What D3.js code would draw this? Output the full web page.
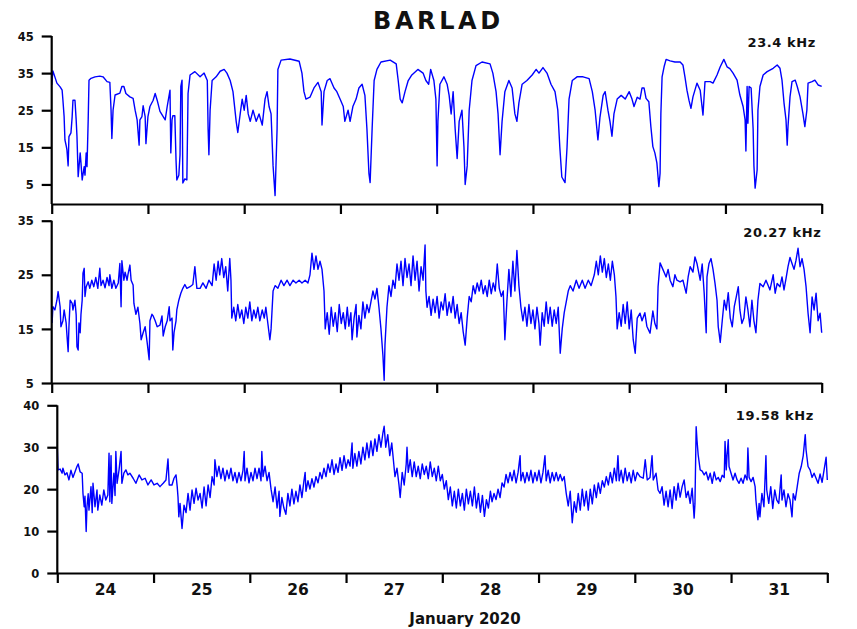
<!DOCTYPE html>
<html><head><meta charset="utf-8">
<script src="https://cdn.jsdelivr.net/npm/d3@7"></script>
<style>
html,body{margin:0;padding:0;background:#fff;}
svg text{font-family:"DejaVu Sans",Verdana,sans-serif;font-weight:bold;fill:#111;}
</style>
</head><body>
<svg id="chart" width="857" height="629"></svg>
<script>
// ---- DATA (time in hours from 24 Jan 2020 00:00, value) ----
const title = "BARLAD";
const xTitle = "January 2020";
const dayLabels = ["24","25","26","27","28","29","30","31"];
const freqLabels = ["23.4 kHz","20.27 kHz","19.58 kHz"];
const yTicks1 = [5,15,25,35,45];
const yTicks2 = [5,15,25,35];
const yTicks3 = [0,10,20,30,40];

const s234 = [[0,31.8],[0.3,35.6],[1.3,32.3],[2.1,31.3],[2.6,30.4],[2.8,27.7],[3.1,23.2],[3.3,17],[3.6,15.5],[3.8,14.3],[4.1,10],[4.3,17.9],[4.8,18.9],[5.1,23.2],[5.3,27.7],[5.8,27.7],[6.1,22.4],[6.3,18],[6.6,7.1],[7.1,13.5],[7.3,10.8],[7.6,6.2],[8.1,9.8],[8.3,7.5],[8.6,13.5],[8.8,9.8],[9.1,22.4],[9.3,33.1],[9.8,33.6],[10.8,34],[12,34.2],[12.8,34],[13.8,32.7],[14.5,32.5],[14.8,25],[15,17.4],[15.3,25],[15.8,29.1],[17,29.6],[17.5,31.4],[18,31.4],[18.5,29.5],[19.5,28.6],[20.3,28.2],[20.8,25],[21.3,22.4],[21.8,15.6],[22,22.4],[22.5,23.3],[22.8,26.2],[23.3,23.3],[23.5,16],[24,23.3],[24.5,26],[25.3,27.7],[25.8,29.5],[26.3,27.7],[27,24.7],[27.8,23.3],[28.3,22.4],[28.8,26],[29.5,30.4],[29.7,13.5],[30,22.4],[30.2,23.5],[30.7,23.5],[31,11.6],[31.2,6.2],[31.7,7.5],[32,13],[32.2,31.4],[32.5,33.1],[32.7,5.4],[33.2,6.5],[33.7,6.2],[34,29.5],[34.5,34.5],[35.7,35.4],[37,34],[38,35],[38.8,33],[39,20],[39.2,13],[39.5,25],[40,33],[41,34],[42,35.5],[43,36],[43.7,35],[44.5,33],[45.2,30],[46,22],[46.4,19],[47,24],[47.5,28],[48,25],[48.5,29],[49,24],[49.5,22],[50.2,25],[51,22],[51.7,24],[52.5,21],[53.2,28],[53.7,30],[54.2,26],[54.7,24],[55.2,10],[55.7,2],[56.2,20],[56.4,36],[57.2,38.5],[59.4,38.8],[61.7,38.2],[62.4,35],[62.9,30],[63.4,28],[64.4,28.5],[65.4,31],[66.4,32.5],[67.2,30],[67.4,21],[67.9,30],[68.7,33],[69.4,33.5],[70.4,31],[71.1,30],[71.9,28],[72.7,26],[73.1,22],[73.9,25],[74.4,22],[75.1,26],[75.9,28],[76.6,31],[77.4,32],[78.1,29],[78.6,20],[79.1,8],[79.4,5.5],[79.9,20],[80.4,33],[81.1,36],[82.1,38],[84.4,38.5],[85.9,37.5],[86.4,33],[86.9,28],[87.4,27],[88.1,30],[88.9,33],[89.8,34.5],[91.3,36],[92.6,35],[93.3,33],[94,32],[94.5,36],[95.3,33],[95.8,28],[96.1,10],[96.3,22],[96.8,32],[97.8,34],[98.6,32],[99.1,29],[99.6,24],[100.1,30],[100.6,20],[101.1,12],[101.6,22],[102.3,25],[102.8,15],[103.1,5],[103.6,10],[104.1,25],[104.8,33],[105.8,37],[107.3,38],[109.3,37.5],[110,35],[110.8,30],[111.3,24],[111.8,13],[112.3,22],[113,30],[114,33],[114.8,31],[115.5,24],[116,22],[116.5,27],[117.3,32],[118.5,33],[119.8,34.5],[120.8,36],[121.5,35],[122.5,36.5],[123.5,35],[124.5,32],[125.5,30],[126.2,25],[126.7,15],[127.2,7],[128,5.5],[128.5,15],[129,28],[129.8,33],[131,34],[132.5,34],[134,33.5],[134.8,30],[135.5,25],[136.2,17],[136.7,23],[137.5,29],[138,30],[138.7,25],[139.2,22],[139.7,18],[140.2,24],[141,28],[142,29],[143,28],[144,30],[144.7,28],[145.2,26],[146,28.5],[146.7,28],[147.2,31],[147.7,31],[148.2,28.2],[148.9,27.3],[149.4,20.6],[149.9,15.2],[150.4,13.5],[150.9,10.8],[151.4,4.4],[151.7,8],[151.9,24.2],[152.2,34],[152.7,36.7],[153.2,38.7],[154.2,38.3],[155.4,38],[156.7,38],[157.4,37.2],[157.9,34],[158.4,30.4],[158.9,27.7],[159.4,25.5],[159.9,28.6],[160.9,32.3],[161.7,30.4],[162.4,23.7],[162.9,32.7],[164.2,32.7],[164.9,32.3],[165.9,34.5],[166.7,36.7],[167.6,38.7],[168.4,36.7],[169.1,36.2],[169.9,35],[170.9,33.1],[171.6,29.1],[172.4,26],[172.9,22.4],[173.1,14],[173.4,31.4],[173.6,21.5],[173.9,31.4],[174.4,31],[174.9,20],[175.1,10],[175.4,4],[175.9,8.9],[176.1,25],[176.6,31.4],[177.4,34.5],[178.4,35.4],[179.9,36.3],[180.9,37.2],[181.6,36.3],[182.1,33.1],[182.6,27],[183.1,22.4],[183.4,15.6],[183.6,20.6],[184.1,28.6],[184.6,32.7],[185.4,33.1],[185.9,31.4],[186.6,28.6],[187.3,24.2],[187.8,20.6],[188.3,25],[188.6,32.3],[189.6,32.7],[190.3,33.1],[191.1,31.8],[192,31.4]];

const s2027 = [[0.1,16.1],[0.3,19.1],[0.8,18.5],[1.3,20.3],[1.6,21.9],[2.1,19.1],[2.3,15.4],[2.8,16.5],[3.1,18.5],[3.6,16.1],[3.8,13.9],[4.1,10.8],[4.3,15.4],[4.6,20.3],[5.1,19.7],[5.3,18.5],[5.8,20.3],[6.1,17.6],[6.3,11.7],[6.6,11.1],[6.8,16.1],[7.1,14.3],[7.3,17.7],[7.6,20.3],[7.8,25.3],[8.1,26.2],[8.3,21],[8.6,22.8],[9.1,23.7],[9.5,22.5],[10,24],[10.5,22.8],[11,24.5],[11.5,22.5],[12,26.2],[12.3,23],[12.8,24],[13.3,22.6],[13.8,24.5],[14.3,23],[14.5,25],[15,22.5],[15.5,24],[16,22.5],[16.6,23.5],[17,27.1],[17.3,19.1],[17.5,27.6],[18,24],[18.3,25.5],[18.8,24],[19,25],[19.5,26.8],[19.8,24],[20.3,23.1],[20.5,19.7],[21,17.7],[21.5,19],[22,16],[22.3,13],[22.8,14.3],[23.3,15.4],[23.8,12.5],[24.3,9.3],[24.5,16.5],[25,17.7],[25.3,17.4],[25.8,16.5],[26.3,15.4],[27,15.7],[27.5,17.4],[27.8,13.7],[28.3,15.4],[28.8,16.5],[29.3,19.1],[29.5,16.5],[30,17],[30.2,11.1],[30.5,14.3],[31,16.5],[31.2,18.5],[31.7,20.3],[32.2,21.6],[32.7,22.5],[33.2,23.2],[33.7,22.5],[34.5,22.8],[35.2,23.2],[35.7,26.5],[36.2,22.5],[37,22.5],[37.7,23.5],[38.5,22.5],[39.2,24],[40,23],[40.5,27],[41,24],[41.5,27.5],[41.9,25],[42.4,28],[42.9,24.5],[43.4,26.5],[43.9,22],[44.4,28],[44.7,24],[44.9,17],[45.4,19],[45.9,16.5],[46.4,19.5],[46.9,17],[47.4,18.5],[47.9,16],[48.4,19],[48.9,17],[49.4,20],[49.9,16.5],[50.4,18.5],[50.9,17],[51.4,19],[51.9,16.5],[52.5,18.5],[53,17],[53.4,19],[53.9,16],[54.4,13],[54.7,15],[55.2,22],[55.7,23],[56.4,22.5],[57.2,24],[57.9,23],[58.7,24],[59.4,23],[60.2,24],[60.9,23.5],[61.7,24],[62.4,23.5],[63.2,24],[63.9,23.5],[64.4,25],[64.9,29],[65.4,26],[65.9,28.5],[66.4,26],[66.9,27.5],[67.4,26],[67.9,22],[68.2,15],[68.7,18],[69.2,14],[69.7,19],[70.2,15.5],[70.7,18],[71.2,14.5],[71.7,19.5],[72.2,16],[72.7,18],[73.2,15],[73.7,19],[74.1,15.5],[74.6,18],[74.9,13],[75.4,17],[75.9,19.5],[76.1,13.5],[76.6,17.5],[77.1,15],[77.6,20],[78.1,17],[78.6,19.5],[79.1,18],[79.6,20],[80.1,22],[80.6,20.5],[81.1,22.5],[81.6,19],[82.1,15],[82.6,10],[82.9,5.5],[83.1,12],[83.6,19],[84.1,23],[84.6,21],[85.1,24],[85.6,22.5],[86.1,27],[86.6,24],[87.1,27.5],[87.6,23],[88.1,28],[88.6,24.5],[89.1,27],[89.6,23],[90.1,28.5],[90.6,24],[91.1,27.5],[91.6,22],[92.1,26.5],[92.6,24],[93.1,30.5],[93.3,22],[93.6,19],[94.1,21],[94.6,17.5],[95.1,20.5],[95.6,18],[96.1,21],[96.6,17],[97.1,20],[97.6,18.5],[98.1,21.5],[98.6,17.5],[99.1,20],[99.6,18],[100.1,21],[100.6,17],[101.1,19.5],[101.6,16],[102.1,18],[102.6,14.5],[103.1,12],[103.6,17],[104.1,21],[104.6,20],[105.1,23],[105.6,21.5],[106.1,23.5],[106.6,22],[107.1,24],[107.6,21.5],[108.1,23],[108.6,21],[109.1,24],[109.6,21.5],[110.1,23.5],[110.6,22],[111.1,27],[111.6,22.5],[112.1,21],[112.6,22],[113,13],[113.5,20],[114,26],[114.5,21],[115,27.5],[115.5,22],[116,29.5],[116.5,23],[117,19],[117.5,16.5],[118,19],[118.5,15.5],[119,19.5],[119.5,16],[120,18.5],[120.5,15],[121,19],[121.5,16],[121.8,12],[122.3,18],[122.8,15.5],[123.3,20],[123.8,16],[124.3,19],[124.8,15.5],[125.3,18.5],[125.8,16],[126.3,19],[126.8,10.5],[127.3,15],[127.8,18],[128.3,20],[128.8,22],[129.3,23],[130,22],[130.8,24],[131.5,22.5],[132.3,24],[133,22.5],[133.8,24],[134.5,23],[135.3,25],[135.8,27.5],[136.3,25],[136.8,28.5],[137.3,25.5],[137.8,28],[138.3,24.5],[138.8,27],[139.3,24],[139.8,27.5],[140.3,25],[140.7,21],[141,15],[141.5,18],[142,15.5],[142.5,19.5],[143,16],[143.5,20],[144,15],[144.5,18.5],[145,13],[145.5,10.5],[146,17],[146.7,17.9],[147.2,16.5],[147.9,18],[148.4,15.5],[149.2,14.2],[149.9,18.3],[150.4,16],[150.9,15],[151.2,22.8],[151.7,27.2],[152.4,26],[153.2,24.6],[153.7,26],[154.2,24],[154.9,22.8],[155.4,25],[155.9,24],[156.7,23.7],[157.4,24],[158.2,21.6],[158.7,24.6],[159.2,26.5],[159.9,25.5],[160.4,28.3],[160.9,27.1],[161.7,24],[162.2,27],[162.7,21.6],[163.2,14.3],[163.4,24.6],[163.9,27.1],[164.4,28],[164.9,26],[165.4,23.4],[165.9,20.3],[166.2,15.4],[166.4,14.3],[166.7,12.5],[167.2,16.5],[167.7,20.3],[168.2,18.5],[168.7,21.7],[169.2,17],[169.7,15.4],[170.2,19.1],[170.7,20.9],[171.2,22.8],[171.6,18.5],[172.1,16],[172.6,17],[173.1,20.9],[173.6,18.5],[174.1,15.4],[174.6,20.3],[175.1,16.5],[175.6,14.3],[176.1,20.3],[176.6,23.4],[177.4,22.8],[178.1,24],[178.6,23.1],[179.1,22.2],[179.9,25],[180.4,21.6],[180.9,23.4],[181.6,22.8],[182.1,24.6],[182.6,22.2],[183.1,24.3],[183.6,26.5],[184.1,28.2],[184.6,27.1],[185.1,26],[185.6,27.7],[186.1,29.9],[186.6,26.5],[187.1,28],[187.6,26],[188.1,22.8],[188.6,17.9],[189.1,14.3],[189.6,20.9],[190.1,18.5],[190.6,21.6],[191.1,16.5],[191.6,17.9],[192,14.3]];

const s1958 = [[0,29.8],[0.2,24.6],[0.7,24.8],[1.2,23.8],[1.4,25],[1.9,23.4],[2.4,23.9],[2.9,22.2],[3.4,24.5],[3.9,22.8],[4.4,24.1],[4.9,25.4],[5.2,26],[5.7,24.1],[6.2,23.8],[6.4,19],[6.7,15.8],[6.9,18.3],[7.2,9.9],[7.4,15.8],[7.7,18.9],[7.9,15],[8.4,20.6],[8.7,14.4],[8.9,21.4],[9.4,15.8],[9.9,19.8],[10.1,15],[10.6,18.6],[11.1,16.2],[11.6,19.8],[12.1,17.4],[12.6,18.6],[12.9,28.6],[13.1,17],[13.4,28],[13.6,16.6],[14.1,23.8],[14.4,18.5],[14.6,29],[14.9,21.4],[15.4,24.6],[15.9,29],[16.1,21.4],[16.6,23.8],[17.1,24.6],[17.6,23.4],[18.1,23.8],[18.9,22.6],[19.6,21.4],[20.4,23.4],[21.1,22.2],[21.9,22.6],[22.6,21],[23.4,22.2],[24.1,21],[24.9,21.4],[25.6,20.6],[26.4,21.4],[27.1,22.2],[27.6,27.2],[27.9,21],[28.6,21],[29.1,22.6],[29.6,23.4],[29.9,20.6],[30.1,18.1],[30.3,13.4],[30.6,16.6],[31.1,10.6],[31.6,16.2],[32.1,14.4],[32.6,19],[33.1,15],[33.6,19.8],[34.1,16.6],[34.6,20.2],[35.1,17.4],[35.6,19],[36.1,15.5],[36.6,20.5],[37.1,16],[37.6,21],[38.1,18],[38.6,23],[39.1,21],[39.3,27],[39.8,23],[40.3,25.5],[40.8,22.5],[41.3,25],[41.8,22],[42.3,24.5],[42.8,22.5],[43.3,25],[43.8,22],[44.3,24],[44.8,21.5],[45.3,24],[45.8,22],[46.3,24.5],[46.6,29],[46.8,22],[47.3,25],[47.8,21.5],[48.3,24],[48.8,22],[49.3,25],[49.8,22.5],[50.3,25],[50.8,22],[51,29],[51.3,23],[51.8,25.5],[52.3,22],[52.8,24],[53.3,20],[53.8,17],[54.3,20.5],[54.8,15.5],[55.3,19.5],[55.5,13.5],[56,18],[56.5,15.5],[57,14],[57.5,19],[58,16],[58.5,20],[59,16.5],[59.5,19.5],[60,17],[60.5,21],[61,18],[61.5,22],[61.8,24],[62,19.5],[62.5,22],[63,20],[63.5,22.5],[64,20.5],[64.5,23],[65,21.5],[65.5,24],[66,22.5],[66.5,25],[67,23],[67.5,26],[68,24],[68.5,27],[69,23.5],[69.5,26],[70,24],[70.5,27.5],[71,24.5],[71.5,28],[72,25],[72.5,27],[73,25.5],[73.5,31],[73.7,25],[74.2,28.5],[74.7,25.5],[75.2,29],[75.7,26],[76.2,30],[76.7,27],[77.2,31],[77.7,27.5],[78.2,31.5],[78.7,28],[79.2,32],[79.7,29],[80.2,33],[80.7,30],[81.2,33.5],[81.5,35],[81.9,30],[82.4,33],[82.9,28],[83.4,31],[83.9,26],[84.2,23],[84.7,25],[85.2,21],[85.5,18],[86,24],[86.5,21],[87,26],[87.2,30],[87.5,24],[88,27],[88.5,23],[89,26.5],[89.5,23],[90,25.5],[90.5,22.5],[91,26],[91.5,23.5],[92,25.5],[92.5,22.5],[93,26.5],[93.5,23],[94,25],[94.5,22],[95,25.5],[95.5,22],[96,23.5],[96.5,20],[97,22],[97.5,17.5],[98,20.5],[98.5,16],[99,19.5],[99.5,15.5],[100,20],[100.5,16],[101,19],[101.5,15],[102,20],[102.5,16.5],[103,19.5],[103.5,16],[104,20.5],[104.5,15.5],[105,19],[105.5,14.5],[106,18.5],[106.5,13.5],[107,17.5],[107.5,15.5],[108,19.5],[108.4,17],[108.9,19],[109.4,17.5],[109.9,20],[110.4,18],[110.9,21.5],[111.4,20.5],[111.9,23.5],[112.4,21.5],[112.9,24],[113.4,22],[113.9,24.5],[114.4,21.5],[114.9,24],[115.4,28],[115.6,22],[116.1,24],[116.6,21.5],[117.1,24],[117.6,22],[118.1,24.5],[118.6,21.5],[119.1,24],[119.6,22],[120.1,24.5],[120.6,21.5],[121.1,24],[121.6,28],[121.9,22],[122.4,24.5],[122.9,21.5],[123.4,24],[123.9,22],[124.4,24],[124.9,22],[125.4,23.5],[125.9,22],[126.4,23],[126.9,19],[127.4,16],[127.9,19.5],[128.4,12],[128.9,17],[129.4,14.5],[129.9,19],[130.4,15],[130.9,20],[131.4,16],[131.9,19.5],[132.4,15],[132.9,20],[133.4,16.5],[133.9,21],[134.4,18],[134.9,21.5],[135.4,19],[135.9,22],[136.4,20.5],[136.9,23],[137.4,21],[137.9,24],[138.4,21.5],[138.9,25],[139.4,22],[139.8,28],[140.1,22],[140.6,24.5],[141.1,21.5],[141.6,25],[142.1,22],[142.6,24],[143.1,21.5],[143.6,24.5],[144.1,22],[144.6,24],[145.3,23],[146.1,22.6],[146.6,27],[147.1,22.2],[147.8,22.8],[148.3,28],[148.6,22.2],[149.3,23.8],[149.8,19.8],[150.3,19],[150.8,20.6],[151.3,16.2],[151.8,19.5],[152.3,15.8],[152.8,19.8],[153.3,15.4],[153.8,20.6],[154.3,17.4],[154.8,21.4],[155.3,18.1],[155.8,20.6],[156.3,22.2],[156.8,18],[157.3,19.5],[157.8,16.6],[158.3,20.2],[158.8,13.1],[159,16.6],[159.3,34.9],[159.5,31.8],[159.8,28.2],[160.3,24.6],[160.8,24.3],[161.3,23.4],[161.8,24.1],[162.3,22.2],[162.8,23.8],[163.3,21.4],[163.8,24.1],[164.3,22.2],[164.8,22.8],[165.3,21.8],[165.8,23.3],[166.3,22.8],[166.5,31.4],[166.8,24.6],[167,28],[167.3,31.8],[167.5,25.4],[168,23.8],[168.5,22.2],[169,23.8],[169.5,22.2],[170,21.4],[170.5,22.6],[171,21.4],[171.5,23.4],[172,22.2],[172.2,29.8],[172.5,22.8],[173,21.8],[173.5,22.8],[174,20.6],[174.2,17.4],[174.7,12.7],[175,16.6],[175.2,13.4],[175.7,19],[176.2,15.8],[176.7,28],[176.9,19.8],[177.4,16.6],[177.9,20.6],[178.4,15.4],[178.9,19.8],[179.4,17.4],[179.9,16.6],[180.5,23.4],[180.7,17.4],[181.2,19.8],[181.7,15.8],[182.2,18.9],[182.7,17.4],[183.2,13.4],[183.5,18.9],[184,17.4],[184.5,20.6],[185,23.8],[185.5,25.4],[186,28],[186.5,33],[186.7,29.4],[187.2,25.4],[187.7,24.6],[188.2,22.8],[188.7,23.8],[189.2,22.6],[189.7,21.4],[190.2,23.6],[190.7,21.6],[191.2,24.6],[191.7,27.6],[192,22.2]];

// ---- LAYOUT ----
const W = 857, H = 629;
const svg = d3.select("#chart");
svg.append("rect").attr("width", W).attr("height", H).attr("fill", "#fff");

const panels = [
  {data: s234, yDom: [0,45], yRange: [203,36], xRange: [51.7,821.7], ticks: yTicks1, label: freqLabels[0], lx: 816, ly: 46.5, axisY: 204},
  {data: s2027, yDom: [5,35], yRange: [383,220.7], xRange: [51.7,821.7], ticks: yTicks2, label: freqLabels[1], lx: 821.5, ly: 237.3, axisY: 383},
  {data: s1958, yDom: [0,40], yRange: [573,405.3], xRange: [57.3,827.3], ticks: yTicks3, label: freqLabels[2], lx: 814, ly: 420, axisY: 573}
];
const dayTicks = d3.range(0, 193, 24);

panels.forEach((p, i) => {
  const x = d3.scaleLinear().domain([0,192]).range(p.xRange);
  const y = d3.scaleLinear().domain(p.yDom).range(p.yRange);

  svg.append("path")
    .datum(p.data)
    .attr("fill", "none")
    .attr("stroke", "#0000ff")
    .attr("stroke-width", 1.4)
    .attr("stroke-linejoin", "round")
    .attr("d", d3.line().x(d => x(d[0])).y(d => y(d[1])));

  const ya = svg.append("g")
    .attr("transform", `translate(${p.xRange[0]},0)`)
    .call(d3.axisLeft(y).tickValues(p.ticks).tickSize(10).tickSizeOuter(0).tickPadding(8).tickFormat(d3.format("d")));
  ya.select(".domain").attr("stroke", "#000").attr("stroke-width", 2.2)
    .attr("d", `M0,${p.axisY}V${p.yRange[1]}`);
  ya.selectAll(".tick line").attr("stroke", "#000").attr("stroke-width", 2.2);
  ya.selectAll(".tick text").attr("font-size", 11.5).attr("font-family", "DejaVu Sans").attr("font-weight", "bold").attr("fill", "#111").attr("dy", "0.36em");

  const xa = svg.append("g")
    .attr("transform", `translate(0,${p.axisY})`)
    .call(d3.axisBottom(x).tickValues(dayTicks).tickSize(10).tickSizeOuter(0).tickFormat(""));
  xa.select(".domain").attr("stroke", "#000").attr("stroke-width", 2.2);
  xa.selectAll(".tick line").attr("stroke", "#000").attr("stroke-width", 2.2);

  svg.append("text").attr("x", p.lx).attr("y", p.ly).attr("text-anchor", "end")
    .attr("font-size", 13).attr("letter-spacing", 0.6).text(p.label);

  if (i === 2) {
    svg.selectAll(".daylab").data(dayLabels).enter().append("text")
      .attr("class", "daylab")
      .attr("x", (d, k) => x(24 * k + 12))
      .attr("y", 595)
      .attr("text-anchor", "middle")
      .attr("font-size", 15.5)
      .text(d => d);
    svg.append("text").attr("x", 465).attr("y", 623.5).attr("text-anchor", "middle")
      .attr("font-size", 15).text(xTitle);
  }
});

svg.append("text").attr("x", 373).attr("y", 29).attr("font-size", 24)
  .attr("letter-spacing", 3.6).text(title);
</script>
</body></html>
